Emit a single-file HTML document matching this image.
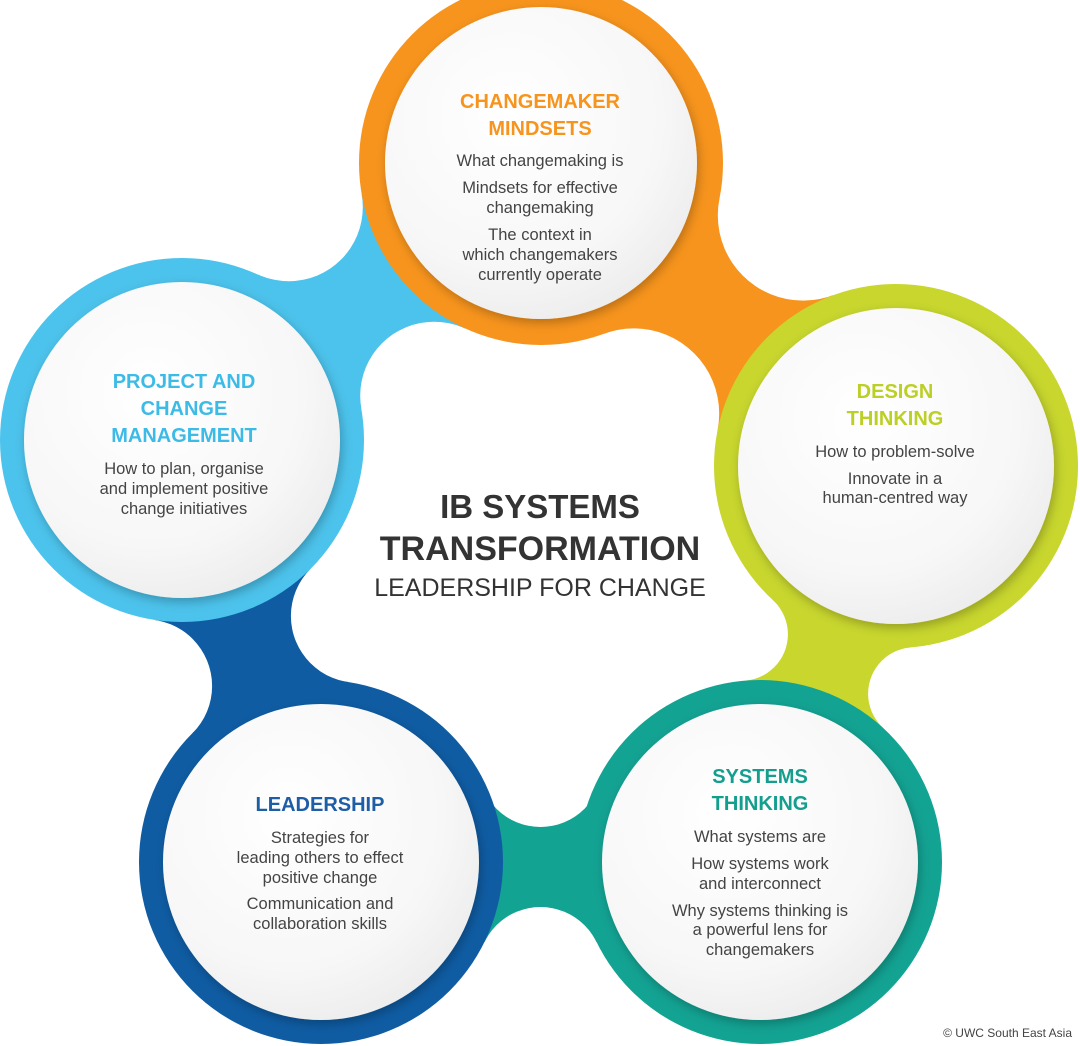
<!DOCTYPE html>
<html><head><meta charset="utf-8"><style>
html,body{margin:0;padding:0;background:#fff;}
svg{display:block;}
text{font-family:"Liberation Sans",sans-serif;}
.h{font-size:20px;text-anchor:middle;font-weight:bold;}
.b{font-size:16.5px;fill:#444;text-anchor:middle;}
</style></head><body>
<svg width="1080" height="1046" viewBox="0 0 1080 1046" xmlns="http://www.w3.org/2000/svg">
<defs>
<filter id="sh" x="-20%" y="-20%" width="140%" height="140%"><feDropShadow dx="2" dy="4" stdDeviation="5" flood-color="#000" flood-opacity="0.25"/></filter>
<radialGradient id="wg" cx="0.4" cy="0.35" r="0.7"><stop offset="0" stop-color="#ffffff"/><stop offset="0.7" stop-color="#f7f7f7"/><stop offset="1" stop-color="#ececec"/></radialGradient>
</defs>
<rect width="1080" height="1046" fill="#fff"/>
<polygon points="541,163 434.2,395.7 182,440 288.8,207.2" fill="#4CC3EC"/>
<polygon points="541,163 633.9,413.7 896,466 803.1,215.3" fill="#F7941D"/>
<polygon points="896,466 741.4,634.3 760,862 914.6,693.7" fill="#C8D62E"/>
<polygon points="760,862 540.5,754.7 321,862 540.5,969.3" fill="#13A393"/>
<polygon points="321,862 357.6,616 182,440 145.4,686" fill="#0F5CA3"/>
<g fill="#fff">
<circle cx="434.2" cy="395.7" r="74"/><circle cx="288.8" cy="207.2" r="74"/>
<circle cx="633.9" cy="413.7" r="85.3"/><circle cx="803.1" cy="215.3" r="85.3"/>
<circle cx="741.4" cy="634.3" r="46.5"/><circle cx="914.6" cy="693.7" r="46.5"/>
<circle cx="540.5" cy="764.7" r="62.3"/><circle cx="540.5" cy="969.3" r="62.3"/>
<circle cx="357.6" cy="616" r="66.7"/><circle cx="145.4" cy="686" r="66.7"/>
</g>
<circle cx="541" cy="163" r="182" fill="#F7941D"/>
<circle cx="896" cy="466" r="182" fill="#C8D62E"/>
<circle cx="182" cy="440" r="182" fill="#4CC3EC"/>
<circle cx="321" cy="862" r="182" fill="#0F5CA3"/>
<circle cx="760" cy="862" r="182" fill="#13A393"/>
<g fill="url(#wg)" filter="url(#sh)">
<circle cx="541" cy="163" r="156"/>
<circle cx="896" cy="466" r="158"/>
<circle cx="182" cy="440" r="158"/>
<circle cx="321" cy="862" r="158"/>
<circle cx="760" cy="862" r="158"/>
</g>
<text x="540" y="518" text-anchor="middle" font-size="33" font-weight="bold" fill="#333">IB SYSTEMS</text>
<text x="540" y="560" text-anchor="middle" font-size="34" font-weight="bold" fill="#333">TRANSFORMATION</text>
<text x="540" y="596" text-anchor="middle" font-size="25" fill="#333">LEADERSHIP FOR CHANGE</text>
<g fill="#F7941D"><text class="h" x="540" y="108">CHANGEMAKER</text><text class="h" x="540" y="135">MINDSETS</text></g>
<text class="b" x="540" y="166">What changemaking is</text>
<text class="b" x="540" y="193">Mindsets for effective</text>
<text class="b" x="540" y="213">changemaking</text>
<text class="b" x="540" y="240">The context in</text>
<text class="b" x="540" y="260">which changemakers</text>
<text class="b" x="540" y="280">currently operate</text>
<g fill="#3DBBE7"><text class="h" x="184" y="388">PROJECT AND</text><text class="h" x="184" y="415">CHANGE</text><text class="h" x="184" y="442">MANAGEMENT</text></g>
<text class="b" x="184" y="474">How to plan, organise</text>
<text class="b" x="184" y="494">and implement positive</text>
<text class="b" x="184" y="514">change initiatives</text>
<g fill="#BCCF24"><text class="h" x="895" y="398">DESIGN</text><text class="h" x="895" y="425">THINKING</text></g>
<text class="b" x="895" y="457">How to problem-solve</text>
<text class="b" x="895" y="484">Innovate in a</text>
<text class="b" x="895" y="503">human-centred way</text>
<text class="h" x="320" y="811" fill="#1D5EA6">LEADERSHIP</text>
<text class="b" x="320" y="843">Strategies for</text>
<text class="b" x="320" y="863">leading others to effect</text>
<text class="b" x="320" y="883">positive change</text>
<text class="b" x="320" y="909">Communication and</text>
<text class="b" x="320" y="929">collaboration skills</text>
<g fill="#149E8E"><text class="h" x="760" y="783">SYSTEMS</text><text class="h" x="760" y="810">THINKING</text></g>
<text class="b" x="760" y="842">What systems are</text>
<text class="b" x="760" y="869">How systems work</text>
<text class="b" x="760" y="889">and interconnect</text>
<text class="b" x="760" y="916">Why systems thinking is</text>
<text class="b" x="760" y="935">a powerful lens for</text>
<text class="b" x="760" y="955">changemakers</text>
<text x="1072" y="1037" text-anchor="end" font-size="12" fill="#444">© UWC South East Asia</text>
</svg>
</body></html>
